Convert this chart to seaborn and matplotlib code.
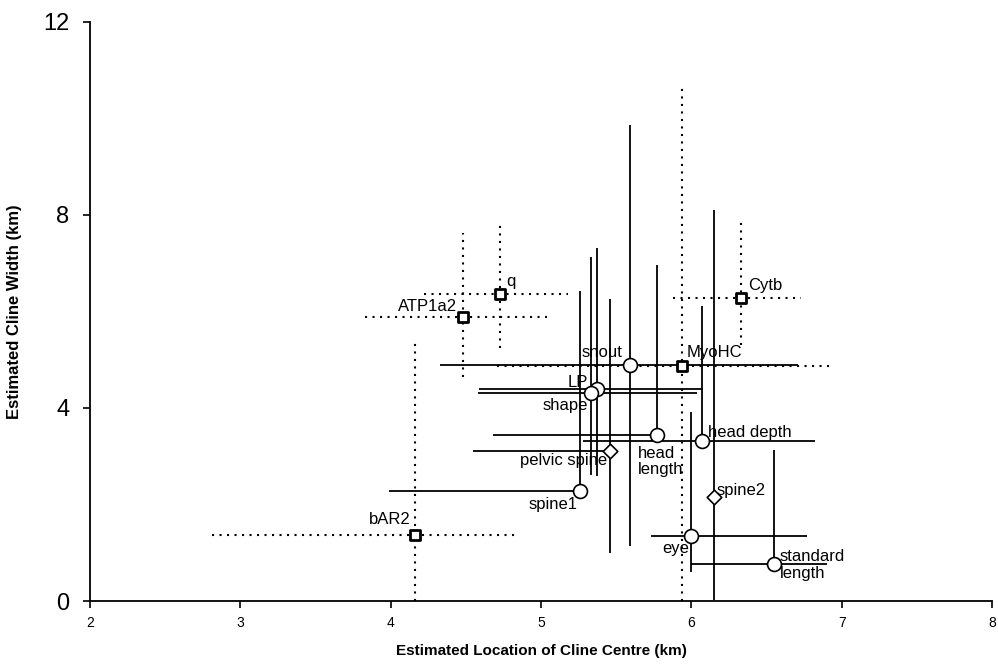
import matplotlib
matplotlib.use("Agg")
import matplotlib.pyplot as plt
import seaborn as sns
import numpy as np
import pandas as pd

# --- molecular markers (dotted error bars, square symbols) ---
mol_names = ["q", "ATP1a2", "Cytb", "MyoHC", "bAR2"]
mol_x = [4.73, 4.48, 6.33, 5.94, 4.16]
mol_y = [6.36, 5.89, 6.27, 4.87, 1.37]
mol_xlo = [4.22, 3.83, 5.88, 4.71, 2.81]
mol_xhi = [5.18, 5.04, 6.73, 6.93, 4.85]
mol_ylo = [5.24, 4.65, 5.31, 0.0, 0.0]
mol_yhi = [7.79, 7.63, 7.86, 10.69, 5.41]

# --- morphological traits (solid error bars, circle / diamond symbols) ---
trait_names = ["snout", "LP", "shape", "head\nlength", "head depth",
               "pelvic spine", "spine1", "spine2", "eye", "standard\nlength"]
trait_x = [5.59, 5.37, 5.33, 5.77, 6.07, 5.46, 5.26, 6.15, 6.00, 6.55]
trait_y = [4.89, 4.39, 4.32, 3.44, 3.32, 3.11, 2.29, 2.15, 1.35, 0.76]
trait_xlo = [4.33, 4.59, 4.58, 4.68, 5.28, 4.55, 3.99, 6.15, 5.73, 6.00]
trait_xhi = [6.71, 6.08, 6.04, 5.77, 6.82, 5.46, 5.26, 6.15, 6.77, 6.90]
trait_ylo = [1.13, 2.60, 2.62, 3.44, 3.32, 0.99, 2.29, 0.02, 0.61, 0.76]
trait_yhi = [9.87, 7.32, 7.13, 6.96, 6.11, 6.26, 6.42, 8.10, 3.92, 3.13]
trait_shape = ["o", "o", "o", "o", "o", "D", "o", "D", "o", "o"]

x_ticks = [2, 3, 4, 5, 6, 7, 8]
y_ticks = [0, 4, 8, 12]

sns.set_style("ticks")
plt.rcParams["font.family"] = ["Liberation Sans", "DejaVu Sans"]
plt.rcParams["text.color"] = "black"
plt.rcParams["axes.labelcolor"] = "black"
plt.rcParams["xtick.color"] = "black"
plt.rcParams["ytick.color"] = "black"

fig = plt.figure(figsize=(9.98, 6.65), dpi=100)
ax = fig.add_axes([0.0902, 0.0962, 0.9038, 0.8708])

dot = (0, (1.0, 2.6))
# molecular error bars (dotted)
ax.hlines(mol_y, mol_xlo, mol_xhi, colors="black", linestyles=dot, linewidth=1.5, zorder=2)
ax.vlines(mol_x, mol_ylo, mol_yhi, colors="black", linestyles=dot, linewidth=1.5, zorder=2)
# trait error bars (solid)
ax.hlines(trait_y, trait_xlo, trait_xhi, colors="black", linestyles="-", linewidth=1.3, zorder=2)
ax.vlines(trait_x, trait_ylo, trait_yhi, colors="black", linestyles="-", linewidth=1.3, zorder=2)

mol_df = pd.DataFrame({"x": mol_x, "y": mol_y, "name": mol_names})
trait_df = pd.DataFrame({"x": trait_x, "y": trait_y, "name": trait_names, "m": trait_shape})

sns.scatterplot(data=mol_df, x="x", y="y", marker="s", s=55, color="white",
                edgecolor="black", linewidth=2.0, ax=ax, zorder=4, legend=False)
circ = trait_df[trait_df["m"] == "o"]
diam = trait_df[trait_df["m"] == "D"]
sns.scatterplot(data=circ, x="x", y="y", marker="o", s=100, color="white",
                edgecolor="black", linewidth=1.2, ax=ax, zorder=4, legend=False)
sns.scatterplot(data=diam, x="x", y="y", marker="D", s=55, color="white",
                edgecolor="black", linewidth=1.2, ax=ax, zorder=4, legend=False)

lab_fs = 12
mol_label_pos = {"q": (4.77, 6.62, "left"), "ATP1a2": (4.44, 6.11, "right"),
                 "Cytb": (6.38, 6.53, "left"), "MyoHC": (5.97, 5.16, "left"),
                 "bAR2": (4.13, 1.68, "right")}
for n in mol_names:
    tx, ty, ha = mol_label_pos[n]
    ax.text(tx, ty, n, ha=ha, va="center", fontsize=lab_fs, color="black", zorder=5)

trait_label_pos = {"snout": (5.54, 5.16, "right"), "LP": (5.31, 4.52, "right"),
                   "shape": (5.315, 4.06, "right"), "head\nlength": (5.645, 2.89, "left"),
                   "head depth": (6.11, 3.50, "left"), "pelvic spine": (5.44, 2.91, "right"),
                   "spine1": (5.24, 2.01, "right"), "spine2": (6.17, 2.30, "left"),
                   "eye": (5.985, 1.09, "right"), "standard\nlength": (6.59, 0.74, "left")}
for n in trait_names:
    tx, ty, ha = trait_label_pos[n]
    ax.text(tx, ty, n, ha=ha, va="center", fontsize=lab_fs, linespacing=1.15,
            color="black", zorder=5)

ax.set_xlim(2, 8)
ax.set_ylim(0, 12)
ax.set_xticks(x_ticks)
ax.set_yticks(y_ticks)
ax.set_xticklabels([str(t) for t in x_ticks], fontsize=10)
ax.set_yticklabels([str(t) for t in y_ticks], fontsize=17)
ax.tick_params(axis="both", direction="out", length=5, width=1.2, colors="black")
ax.tick_params(axis="x", pad=6)
ax.tick_params(axis="y", pad=10)
sns.despine(ax=ax)
for s in ["left", "bottom"]:
    ax.spines[s].set_linewidth(1.3)
    ax.spines[s].set_color("black")

ax.set_xlabel("Estimated Location of Cline Centre (km)", fontsize=11, fontweight="bold",
              family=["Liberation Sans", "DejaVu Sans"], labelpad=10)
ax.set_ylabel("Estimated Cline Width (km)", fontsize=12, fontweight="bold",
              family=["Liberation Sans", "DejaVu Sans"])
ax.yaxis.set_label_coords(-0.075, 0.5)

fig.savefig("out.png", dpi=100, facecolor="white")
